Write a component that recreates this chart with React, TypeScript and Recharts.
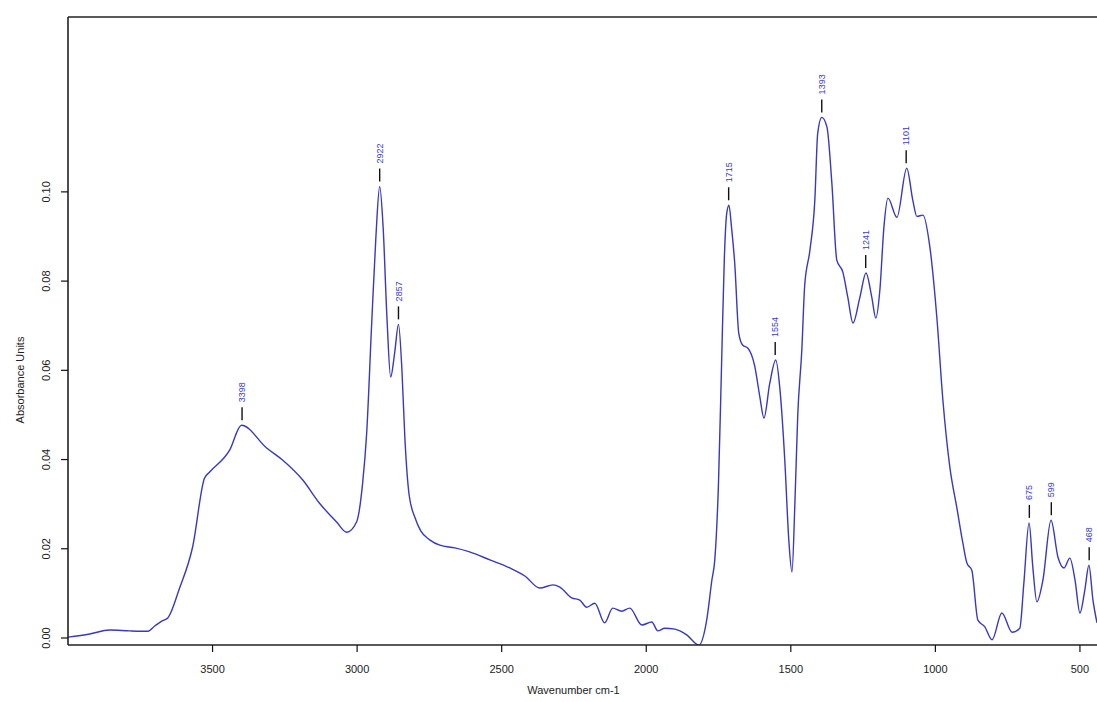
import React from 'react';
import { ComposedChart, Line, Scatter, XAxis, YAxis, ReferenceLine } from 'recharts';

// wavenumber (cm-1) and absorbance
const wavenumbers = [
  4000, 3925, 3856, 3787, 3725, 3700, 3676, 3655, 3614, 3569, 3528, 3510, 3441, 3400, 3313, 3258, 3188, 3130,
  3071, 3036, 3002, 2981, 2967, 2950, 2935, 2922, 2910, 2897, 2884, 2870, 2857, 2845, 2835, 2820, 2800, 2780,
  2749, 2714, 2662, 2611, 2541, 2472, 2420, 2368, 2323, 2299, 2258, 2230, 2206, 2178, 2144, 2116, 2085, 2057,
  2015, 1981, 1960, 1936, 1901, 1860, 1818, 1791, 1773, 1763, 1750, 1740, 1730, 1722, 1714, 1705, 1694, 1680,
  1666, 1649, 1625, 1607, 1593, 1573, 1552, 1538, 1521, 1507, 1496, 1486, 1476, 1462, 1452, 1434, 1417, 1407,
  1393, 1375, 1358, 1341, 1320, 1303, 1285, 1261, 1240, 1220, 1206, 1192, 1178, 1164, 1133, 1099, 1078, 1064,
  1043, 1019, 995, 974, 950, 926, 905, 891, 874, 853, 829, 804, 770, 735, 708, 694, 676, 663, 649, 628, 600,
  576, 555, 535, 517, 500, 483, 469, 455, 441,
];

const absorbance = [
  0.0002, 0.0009, 0.0018, 0.0016, 0.0015, 0.0027, 0.0038, 0.0045, 0.0112, 0.0204, 0.0358, 0.0372, 0.0421,
  0.0477, 0.0426, 0.0399, 0.0354, 0.0302, 0.026, 0.0237, 0.026, 0.0347, 0.0459, 0.07, 0.09, 0.1012, 0.092,
  0.072, 0.0585, 0.064, 0.0703, 0.06, 0.045, 0.032, 0.027, 0.024, 0.022, 0.0208, 0.0202, 0.0193, 0.0175,
  0.0157, 0.0139, 0.0112, 0.0119, 0.0114, 0.009, 0.0085, 0.0069, 0.0078, 0.0034, 0.0067, 0.006, 0.0067,
  0.0029, 0.0036, 0.0016, 0.0022, 0.002, 0.0007, -0.0016, 0.004, 0.013, 0.0175, 0.035, 0.06, 0.085, 0.095,
  0.097, 0.092, 0.084, 0.0683, 0.0656, 0.065, 0.061, 0.054, 0.0493, 0.057, 0.0623, 0.056, 0.04, 0.022,
  0.0148, 0.03, 0.05, 0.0645, 0.079, 0.0869, 0.0981, 0.1131, 0.1167, 0.1145, 0.1019, 0.0847, 0.082, 0.0764,
  0.0706, 0.0764, 0.0818, 0.0764, 0.0717, 0.078, 0.0921, 0.0986, 0.0943, 0.1053, 0.0981, 0.0945, 0.0948,
  0.0876, 0.0719, 0.0533, 0.0383, 0.0293, 0.0213, 0.0168, 0.0152, 0.004, 0.0025, -0.0004, 0.0056, 0.0013,
  0.0022, 0.0123, 0.0258, 0.0159, 0.0081, 0.013, 0.0264, 0.0181, 0.0157, 0.0179, 0.013, 0.0056, 0.0108,
  0.0163, 0.0085, 0.0034,
];

// labelled peaks
const peakWavenumbers = [3398, 2922, 2857, 1715, 1554, 1393, 1241, 1101, 675, 599, 468];
const peakAbsorbance = [0.0477, 0.1012, 0.0703, 0.097, 0.0623, 0.1167, 0.0818, 0.1053, 0.0258, 0.0264, 0.0163];

const xTicks = [3500, 3000, 2500, 2000, 1500, 1000, 500];
const yTicks = [0, 0.02, 0.04, 0.06, 0.08, 0.1];
const xDomain = [441, 4000];
const yDomain = [-0.00157, 0.1392];

const spectrum = wavenumbers.map((w, i) => ({ w, a: absorbance[i] }));
const peaks = peakWavenumbers.map((w, i) => ({ w, a: peakAbsorbance[i] }));

const FONT = "'Liberation Sans Narrow', 'Liberation Sans', Arial, sans-serif";

const PeakMark = (props: any) => {
  const { cx, cy, payload } = props;
  if (cx == null || cy == null) return null;
  const ty = cy - 23;
  return (
    <g>
      <line x1={cx} x2={cx} y1={cy - 5} y2={cy - 18} stroke="#111" strokeWidth={1.4} />
      <text
        x={cx}
        y={ty}
        dy="0.35em"
        transform={`rotate(-90, ${cx}, ${ty})`}
        textAnchor="start"
        fontSize={9}
        fontFamily={FONT}
        fill="#3a3ac8"
      >
        {payload.w}
      </text>
    </g>
  );
};

const YTick = (props: any) => {
  const { x, y, payload } = props;
  return (
    <text
      x={x}
      y={y}
      transform={`rotate(-90, ${x}, ${y})`}
      textAnchor="middle"
      fontSize={11}
      fontFamily={FONT}
      fill="#222"
    >
      {payload.value.toFixed(2)}
    </text>
  );
};

const YTitle = (props: any) => {
  const { viewBox } = props;
  const x = 24;
  const y = viewBox.y + viewBox.height / 2 + 49;
  return (
    <text x={x} y={y} transform={`rotate(-90, ${x}, ${y})`} textAnchor="middle" fontSize={11} fontFamily={FONT} fill="#222">
      Absorbance Units
    </text>
  );
};

const XTitle = (props: any) => {
  const { viewBox } = props;
  return (
    <text x={viewBox.x + viewBox.width / 2 - 9} y={694} textAnchor="middle" fontSize={11} fontFamily={FONT} fill="#222">
      Wavenumber cm-1
    </text>
  );
};

export default function App() {
  return (
    <div style={{ width: 1097, height: 702, overflow: 'hidden', background: '#fff' }}>
      <style>{'body{margin:0} #root{overflow:visible}'}</style>
      <ComposedChart width={1097} height={702} margin={{ top: 17, right: 0, bottom: 0, left: 0 }}>
        <XAxis
          dataKey="w"
          type="number"
          domain={xDomain}
          allowDataOverflow
          reversed
          ticks={xTicks}
          height={57}
          tickSize={7}
          tickMargin={13}
          tick={{ fontSize: 11, fontFamily: FONT, fill: '#222' }}
          tickLine={{ stroke: '#111', strokeWidth: 1.2 }}
          axisLine={{ stroke: '#222', strokeWidth: 1.6 }}
          label={<XTitle />}
        />
        <YAxis
          type="number"
          domain={yDomain}
          allowDataOverflow
          ticks={yTicks}
          width={68}
          tickSize={7}
          tickMargin={11}
          tick={<YTick />}
          tickLine={{ stroke: '#111', strokeWidth: 1.2 }}
          axisLine={{ stroke: '#222', strokeWidth: 1.6 }}
          label={<YTitle />}
        />
        <ReferenceLine y={yDomain[1]} stroke="#222" strokeWidth={1.6} ifOverflow="extendDomain" />
        <Line
          data={spectrum}
          dataKey="a"
          type="monotone"
          stroke="#3838c0"
          strokeWidth={1.4}
          dot={false}
          activeDot={false}
          isAnimationActive={false}
        />
        <Scatter data={peaks} dataKey="a" shape={<PeakMark />} isAnimationActive={false} />
      </ComposedChart>
    </div>
  );
}
